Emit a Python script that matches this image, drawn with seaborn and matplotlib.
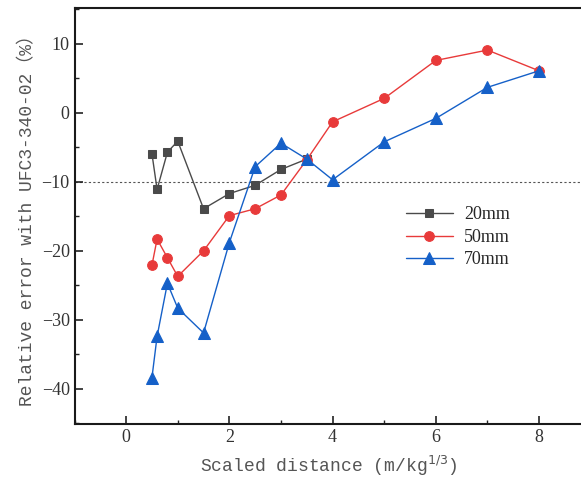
import matplotlib
matplotlib.use("Agg")
import matplotlib.pyplot as plt
import seaborn as sns
import pandas as pd
from matplotlib.ticker import MultipleLocator

# ---- data ----
x20 = [0.5, 0.6, 0.8, 1.0, 1.5, 2.0, 2.5, 3.0, 3.5]
y20 = [-5.9, -11.1, -5.7, -4.1, -13.9, -11.7, -10.5, -8.2, -6.7]

x50 = [0.5, 0.6, 0.8, 1.0, 1.5, 2.0, 2.5, 3.0, 3.5, 4.0, 5.0, 6.0, 7.0, 8.0]
y50 = [-22.1, -18.3, -21.0, -23.7, -20.0, -14.9, -13.9, -11.9, -6.8, -1.3, 2.1, 7.6, 9.1, 6.1]

x70 = [0.5, 0.6, 0.8, 1.0, 1.5, 2.0, 2.5, 3.0, 3.5, 4.0, 5.0, 6.0, 7.0, 8.0]
y70 = [-38.4, -32.4, -24.7, -28.3, -31.9, -18.8, -7.8, -4.4, -6.7, -9.7, -4.2, -0.8, 3.7, 6.1]

labels = ["20mm", "50mm", "70mm"]
colors = ["#4a4a4a", "#e83a3a", "#1560c8"]
markers = ["s", "o", "^"]
msizes = [6.0, 7.0, 8]

x_ticks = [0, 2, 4, 6, 8]
y_ticks = [10, 0, -10, -20, -30, -40]
ref_line = -10

sns.set_theme(style="white")
plt.rcParams['font.family'] = ['Liberation Serif', 'Noto Sans CJK SC']

fig = plt.figure(figsize=(5.81, 4.88), dpi=100)
ax = fig.add_axes([74.5 / 581, 1 - 424 / 488, 1 - 74.5 / 581 + 0.002, (424 - 8) / 488])

series = [(x20, y20), (x50, y50), (x70, y70)]
for (xs, ys), lab, c, m, ms in zip(series, labels, colors, markers, msizes):
    df = pd.DataFrame({"x": xs, "y": ys})
    sns.lineplot(data=df, x="x", y="y", ax=ax, color=c, marker=m, markersize=ms,
                 markeredgecolor=c, linewidth=1.0, label=lab, sort=False)

ax.axhline(ref_line, color="#555555", linestyle=(0, (2, 2)), linewidth=0.8, zorder=0)

ax.set_xlim(-1, (581 - 126) / 51.5)
ax.set_ylim(-45.1, 15.2)
ax.set_xticks(x_ticks)
ax.set_yticks(y_ticks)
ax.xaxis.set_minor_locator(MultipleLocator(1))
ax.yaxis.set_minor_locator(MultipleLocator(5))
ax.tick_params(which="both", direction="in", left=True, bottom=True, top=False, right=False,
               labelsize=13, colors="#222222")
ax.tick_params(which="major", length=6, width=1.2)
ax.tick_params(which="minor", length=3, width=1.0)
for t in ax.get_xticklabels() + ax.get_yticklabels():
    t.set_color("#333333")

for s in ["left", "bottom", "top"]:
    ax.spines[s].set_visible(True)
    ax.spines[s].set_color("#1a1a1a")
    ax.spines[s].set_linewidth(1.5)
ax.spines["right"].set_visible(False)

ax.set_xlabel("Scaled distance (m/kg$^{1/3}$)", fontsize=13,
              family=['Liberation Mono', 'Noto Sans CJK SC'], color="#555555", labelpad=6)
ax.set_ylabel("Relative error with UFC3-340-02（%）", fontsize=13,
              family=['Liberation Mono', 'Noto Sans CJK SC'], color="#555555", labelpad=4)

leg = ax.legend(frameon=False, loc="upper left", bbox_to_anchor=(0.621, 0.562),
                fontsize=13, handlelength=2.6, labelspacing=0.3, handletextpad=0.6)

fig.savefig("out.png", dpi=100)
